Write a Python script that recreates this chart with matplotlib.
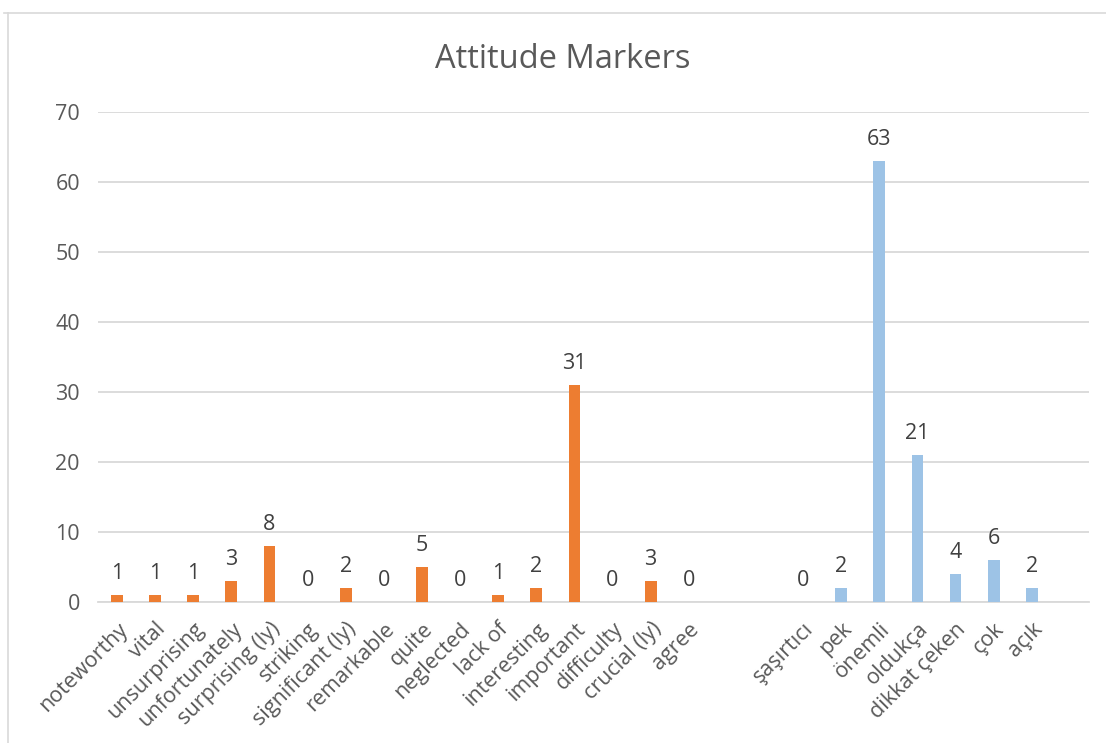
import matplotlib
matplotlib.use("Agg")
import matplotlib.pyplot as plt
from matplotlib.lines import Line2D

plt.rcParams['font.family'] = ['Open Sans', 'DejaVu Sans']

title = "Attitude Markers"
english_terms = ["noteworthy", "vital", "unsurprising", "unfortunately", "surprising (ly)",
                 "striking", "significant (ly)", "remarkable", "quite", "neglected",
                 "lack of", "interesting", "important", "difficulty", "crucial (ly)", "agree"]
english_counts = [1, 1, 1, 3, 8, 0, 2, 0, 5, 0, 1, 2, 31, 0, 3, 0]
turkish_terms = ["şaşırtıcı", "pek", "önemli", "oldukça", "dikkat çeken", "çok", "açık"]
turkish_counts = [0, 2, 63, 21, 4, 6, 2]
y_ticks = [0, 10, 20, 30, 40, 50, 60, 70]

TEXT = "#595959"
GRID = "#D9D9D9"
ORANGE = "#ED7D31"
BLUE = "#9DC3E6"

fig = plt.figure(figsize=(11.06, 7.43), dpi=100)
ax = fig.add_axes([0.0886, 0.1898, 0.8960, 0.6595])

gap = 2
x_en = list(range(len(english_terms)))
x_tr = [len(english_terms) + gap + i for i in range(len(turkish_terms))]
n_slots = len(english_terms) + gap + len(turkish_terms) + 1

bw = 0.31
ax.bar(x_en, english_counts, width=bw, color=ORANGE, zorder=3)
ax.bar(x_tr, turkish_counts, width=bw, color=BLUE, zorder=3)

for xs, vals in ((x_en, english_counts), (x_tr, turkish_counts)):
    for x, v in zip(xs, vals):
        ax.annotate(str(v), (x, v), xytext=(0, 8), textcoords="offset points",
                    ha="center", va="bottom", fontsize=15.5, color="#404040")

ax.set_xlim(-0.5, n_slots - 0.5)
ax.set_ylim(0, 70)
ax.set_yticks(y_ticks)
ax.set_yticklabels([str(t) for t in y_ticks], fontsize=15.5, color=TEXT)
ax.tick_params(axis="y", length=0, pad=13)
ax.tick_params(axis="x", length=0, pad=12)
ax.set_xticks(x_en + x_tr)
ax.set_xticklabels(english_terms + turkish_terms, rotation=45, ha="right",
                   rotation_mode="anchor", fontsize=15.5, color=TEXT)
for lbl in ax.get_xticklabels():
    lbl.set_va("top")

ax.grid(axis="y", color=GRID, linewidth=1.3, zorder=0)
for s in ["top", "right", "left"]:
    ax.spines[s].set_visible(False)
ax.spines["bottom"].set_color(GRID)
ax.spines["bottom"].set_linewidth(1.3)

fig.text(563 / 1106, 1 - 68 / 743, title, ha="center", va="baseline",
         fontsize=23.5, color=TEXT)

# chart frame
fig.add_artist(Line2D([4 / 1106, 1.0], [1 - 13 / 743, 1 - 13 / 743],
                      transform=fig.transFigure, color=GRID, linewidth=1.2))
fig.add_artist(Line2D([8 / 1106, 8 / 1106], [1 - 13 / 743, 0.0],
                      transform=fig.transFigure, color=GRID, linewidth=1.2))

fig.savefig("out.png", dpi=100, facecolor="white")
